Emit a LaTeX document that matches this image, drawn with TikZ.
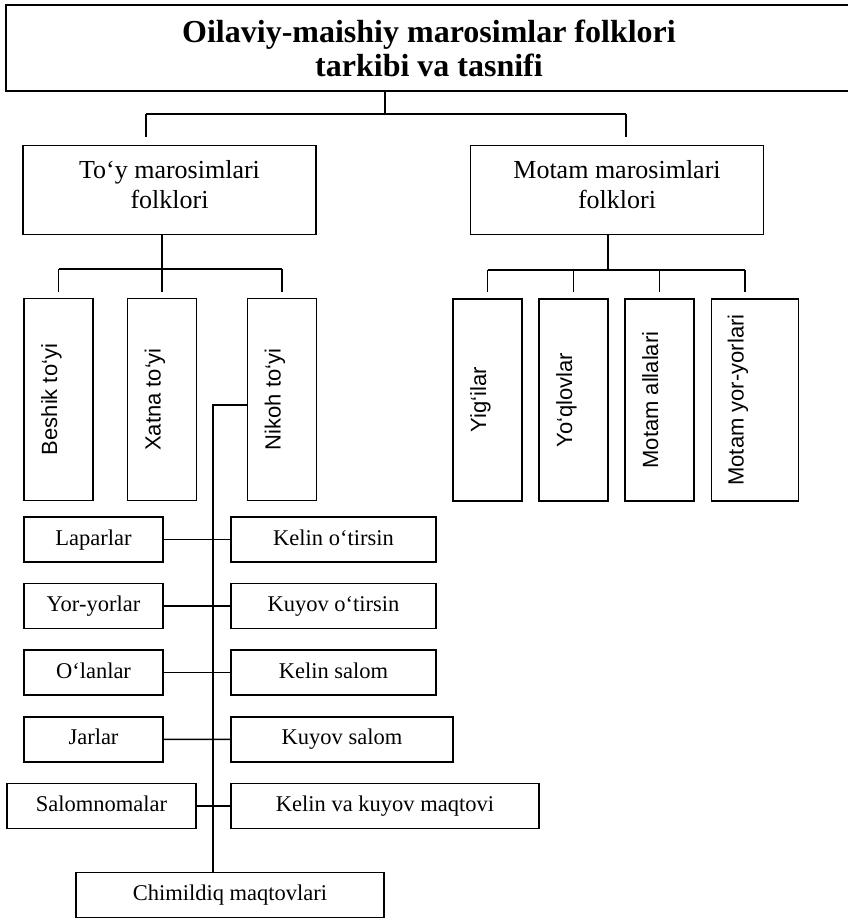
\documentclass[tikz,border=0pt]{standalone}
\usepackage{fontspec}
\setmainfont{Liberation Serif}
\setsansfont{Liberation Sans}
\usepackage{tikz}
\tikzstyle{block} = [draw, rectangle, line width=1.6pt, inner sep=0pt]
\tikzstyle{titleblock} = [block, align=center, font=\fontsize{32}{34}\selectfont\bfseries, minimum width=846pt, minimum height=86pt]
\tikzstyle{group} = [block, align=center, font=\fontsize{26}{30}\selectfont, minimum width=293pt, minimum height=89pt, text depth=12pt]
\tikzstyle{kind} = [block, rotate=90, font=\fontsize{22}{24}\selectfont\sffamily, minimum width=202pt, minimum height=69pt, text height=16pt, text depth=19pt]
\tikzstyle{song} = [block, font=\fontsize{22.5}{26}\selectfont, minimum height=45pt, text height=16pt, text depth=5pt]
\tikzstyle{link} = [line width=1.5pt]

\begin{document}
\begin{tikzpicture}[x=1pt, y=-1pt]
        \useasboundingbox (0,0) rectangle (847,920);
        \node[titleblock] (title) at (429,48) {Oilaviy-maishiy marosimlar folklori\\tarkibi va tasnifi};
        \node[group] (toy) at (169.5,190) {To‘y marosimlari\\folklori};
        \node[group] (motam) [right of=toy, node distance=447.5pt] {Motam marosimlari\\folklori};
        \node[kind] (beshik) at (58.5,399.5) {Beshik to‘yi};
        \node[kind] (xatna) at (162,399.5) {Xatna to‘yi};
        \node[kind] (nikoh) at (282,399.5) {Nikoh to‘yi};
        \node[kind] (yiglar) at (487.5,400) {Yig‘ilar};
        \node[kind] (yoqlov) at (573.5,400) {Yo‘qlovlar};
        \node[kind] (allalar) at (659.5,400) {Motam allalari};
        \node[kind, minimum height=87pt, text depth=39pt] (motamyor) at (755,400) {Motam yor-yorlari};
        \node[song, minimum width=139pt] (lapar) at (93.5,539.5) {Laparlar};
        \node[song, minimum width=139pt] (yoryor) [below of=lapar, node distance=66.6pt] {Yor-yorlar};
        \node[song, minimum width=139pt] (olan) [below of=yoryor, node distance=66.6pt] {O‘lanlar};
        \node[song, minimum width=139pt] (jar) [below of=olan, node distance=66.6pt] {Jarlar};
        \node[song, minimum width=189pt] (salom) at (101.5,806) {Salomnomalar};
        \node[song, minimum width=205pt] (kelinot) at (333.5,539.5) {Kelin o‘tirsin};
        \node[song, minimum width=205pt] (kuyovot) [below of=kelinot, node distance=66.6pt] {Kuyov o‘tirsin};
        \node[song, minimum width=205pt] (kelinsalom) [below of=kuyovot, node distance=66.6pt] {Kelin salom};
        \node[song, minimum width=222pt] (kuyovsalom) at (342,739.3) {Kuyov salom};
        \node[song, minimum width=308pt] (maqtov) at (385,806) {Kelin va kuyov maqtovi};
        \node[song, minimum width=308pt] (chimildiq) at (230,895) {Chimildiq maqtovlari};
        \coordinate (tj) at (385,114);
        \coordinate (tl) at (146,114);
        \coordinate (tr) at (626,114);
        \coordinate (sj) at (162,269);
        \coordinate (mj) at (608,270);
        \coordinate (mr) at (745,270);
        \coordinate (nj) at (213,405);
        \draw[link] (title.south -| tj) -- (tj);
        \draw[link] (tl) -- (tr);
        \draw[link, shorten >=8pt] (tl) -- (tl |- toy.north);
        \draw[link, shorten >=8pt] (tr) -- (tr |- motam.north);
        \draw[link, shorten >=6pt] (toy.south -| sj) -- (sj |- xatna.east);
        \draw[link] (beshik.east |- sj) -- (nikoh.east |- sj);
        \draw[link, shorten >=6pt] (beshik.east |- sj) -- (beshik.east);
        \draw[link, shorten >=6pt] (nikoh.east |- sj) -- (nikoh.east);
        \draw[link] (motam.south -| mj) -- (mj);
        \draw[link] (yiglar.east |- mj) -- (mr);
        \foreach \n in {yiglar,yoqlov,allalar}
            \draw[link, shorten >=6pt] (\n.east |- mj) -- (\n.east);
        \draw[link, shorten >=6pt] (mr) -- (mr |- motamyor.east);
        \draw[link] (nikoh.north |- nj) -- (nj) -- (nj |- chimildiq.north);
        \draw[link] (lapar) -- (kelinot);
        \draw[link] (yoryor) -- (kuyovot);
        \draw[link] (olan) -- (kelinsalom);
        \draw[link] (jar) -- (kuyovsalom);
        \draw[link] (salom) -- (maqtov);
    \end{tikzpicture}
\end{document}
